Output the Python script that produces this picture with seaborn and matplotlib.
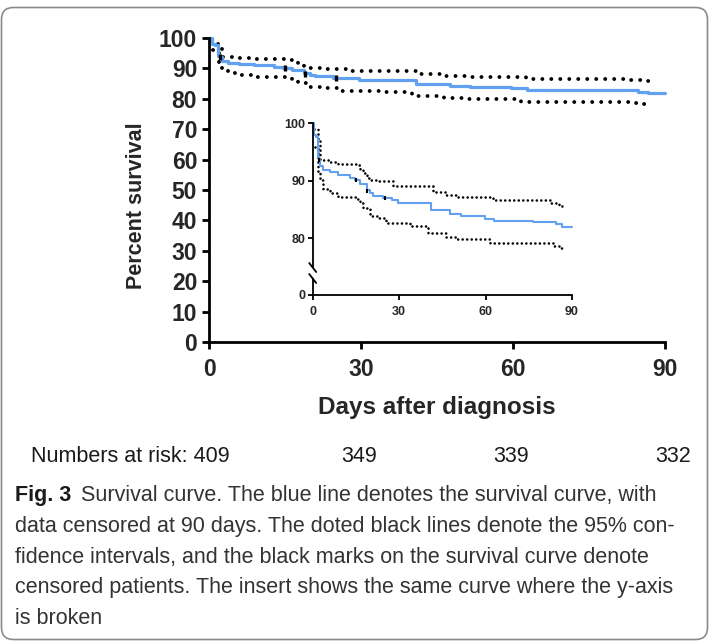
import numpy as np
import pandas as pd
import matplotlib
matplotlib.use("Agg")
import matplotlib.pyplot as plt
import seaborn as sns
from matplotlib.patches import FancyBboxPatch

# ---------------- data ----------------
km_days = [0, 0.6, 1.2, 1.7, 2.3, 2.5, 3.7, 6.0, 8.9, 12.9, 14.7, 16.4, 18.7, 19.9,
           21.0, 24.5, 27.4, 29.7, 32.6, 40.9, 47.6, 51.6, 59.7, 62.8, 76.5, 84.6, 86.6, 90.0]
km_surv = [100, 98.0, 97.6, 94.2, 93.6, 92.5, 91.9, 91.6, 91.0, 90.4, 90.1, 89.4, 88.4, 87.9,
           87.4, 87.0, 86.7, 86.2, 86.1, 85.0, 84.3, 83.9, 83.4, 83.0, 82.8, 82.4, 82.0, 82.0]

upper_days = [0.6, 1.7, 2.5, 6.0, 8.9, 15.2, 16.4, 17.6, 18.7, 19.9, 22.2, 28.0,
              41.8, 46.4, 50.5, 62.6, 82.3, 85.5, 87.0]
upper_vals = [99.0, 97.2, 93.7, 93.3, 93.0, 92.7, 92.1, 91.3, 90.5, 90.1, 89.9, 89.1,
              88.1, 87.5, 87.1, 86.6, 86.2, 85.7, 85.7]

lower_days = [0.8, 2.0, 2.5, 3.7, 6.0, 8.9, 15.2, 16.4, 17.6, 19.9, 22.2, 25.6,
              33.7, 40.1, 46.4, 49.9, 61.5, 83.4, 85.5, 87.0]
lower_vals = [95.9, 91.6, 90.1, 88.5, 87.9, 87.1, 86.8, 86.2, 85.2, 83.9, 83.5, 82.6,
              82.2, 80.9, 80.3, 79.9, 79.1, 78.7, 78.3, 78.3]

censor_days = [2.2, 15.0, 19.0, 25.0]
censor_vals = [93.6, 90.1, 88.2, 87.0]

main_xticks = [0, 30, 60, 90]
main_yticks = [0, 10, 20, 30, 40, 50, 60, 70, 80, 90, 100]
inset_yticks_upper = [80, 90, 100]
inset_yticks_lower = [0]

risk_numbers = [409, 349, 339, 332]

caption_lines = [
    "data censored at 90 days. The doted black lines denote the 95% con-",
    "fidence intervals, and the black marks on the survival curve denote",
    "censored patients. The insert shows the same curve where the y-axis",
    "is broken",
]
caption_first = "Survival curve. The blue line denotes the survival curve, with"

# ---------------- style ----------------
sns.set_theme(style="ticks")
plt.rcParams["font.family"] = ["Liberation Sans", "DejaVu Sans"]

BLUE = "#62A0F0"
W, H = 712, 642
fig = plt.figure(figsize=(W / 100, H / 100), dpi=100)
fig.patch.set_facecolor("white")

km = pd.DataFrame({"day": km_days, "surv": km_surv})
up = pd.DataFrame({"day": upper_days, "val": upper_vals})
lo = pd.DataFrame({"day": lower_days, "val": lower_vals})
cen = pd.DataFrame({"day": censor_days, "val": censor_vals})


def px_axes(x0, ytop, x1, ybot):
    return fig.add_axes([x0 / W, (H - ybot) / H, (x1 - x0) / W, (ybot - ytop) / H])


def draw_curves(ax, lw_blue, lw_dot, gap, ms, mew):
    for df in (up, lo):
        sns.lineplot(data=df, x="day", y="val", ax=ax, color="black", lw=lw_dot,
                     linestyle=(0, (0.01, gap)), dash_capstyle="round",
                     drawstyle="steps-post", estimator=None, clip_on=False, legend=False)
    sns.lineplot(data=km, x="day", y="surv", ax=ax, color=BLUE, lw=lw_blue,
                 drawstyle="steps-post", estimator=None, clip_on=False, legend=False)
    sns.scatterplot(data=cen, x="day", y="val", ax=ax, marker="|", s=ms,
                    color="black", linewidth=mew, zorder=5, legend=False, clip_on=False)


# ---------------- main axes ----------------
ax = px_axes(209, 38, 665, 342)
draw_curves(ax, 2.3, 2.8, 2.3, 24, 2.4)
ax.set_xlim(0, 90)
ax.set_ylim(0, 100)
ax.set_xticks(main_xticks)
ax.set_yticks(main_yticks)
ax.set_xticklabels([str(t) for t in main_xticks])
ax.set_yticklabels([str(t) for t in main_yticks])
for s in ["top", "right"]:
    ax.spines[s].set_visible(False)
for s in ["left", "bottom"]:
    ax.spines[s].set_linewidth(2.0)
    ax.spines[s].set_color("black")
ax.tick_params(axis="both", direction="out", length=5, width=2.0, color="black",
               labelsize=16.5, pad=3.5)
for lab in ax.get_xticklabels() + ax.get_yticklabels():
    lab.set_fontweight("bold")
ax.tick_params(axis="x", pad=6.5)
ax.set_xlabel("Days after diagnosis", fontsize=17.5, fontweight="bold")
ax.set_ylabel("Percent survival", fontsize=15.5, fontweight="bold")
ax.xaxis.set_label_coords(0.5, -0.215)
ax.yaxis.set_label_coords(-0.158, 0.45)
ax.xaxis.label.set_va("center")
ax.yaxis.label.set_va("center")
ax.set_facecolor("none")

# ---------------- inset (broken y-axis) ----------------
IX0, IX1 = 312.7, 572.0
ax_u = px_axes(IX0, 123.3, IX1, 267.5)
draw_curves(ax_u, 1.5, 1.9, 1.7, 12, 1.5)
ax_u.set_xlim(0, 90)
ax_u.set_ylim(100 - (267.5 - 123.3) / 5.75, 100)
ax_u.set_yticks(inset_yticks_upper)
ax_u.set_yticklabels([str(t) for t in inset_yticks_upper])
ax_u.set_xticks([])
for s in ["top", "right", "bottom"]:
    ax_u.spines[s].set_visible(False)
ax_u.spines["left"].set_linewidth(1.3)
ax_u.spines["left"].set_color("black")
ax_u.tick_params(axis="y", direction="out", length=3.5, width=1.3, color="black",
                 labelsize=9, pad=2)
for lab in ax_u.get_yticklabels():
    lab.set_fontweight("bold")
ax_u.set_xlabel("")
ax_u.set_ylabel("")
ax_u.set_facecolor("none")

ax_l = px_axes(IX0, 278.5, IX1, 294.5)
ax_l.set_xlim(0, 90)
ax_l.set_ylim(0, 16 / 5.75)
ax_l.set_xticks(main_xticks)
ax_l.set_xticklabels([str(t) for t in main_xticks])
ax_l.set_yticks(inset_yticks_lower)
ax_l.set_yticklabels([str(t) for t in inset_yticks_lower])
for s in ["top", "right"]:
    ax_l.spines[s].set_visible(False)
for s in ["left", "bottom"]:
    ax_l.spines[s].set_linewidth(1.3)
    ax_l.spines[s].set_color("black")
ax_l.tick_params(axis="both", direction="out", length=3.5, width=1.3, color="black",
                 labelsize=9, pad=2)
ax_l.tick_params(axis="x", pad=5)
for lab in ax_l.get_xticklabels() + ax_l.get_yticklabels():
    lab.set_fontweight("bold")
ax_l.set_facecolor("none")

# break marks
hw = 3.5 / (IX1 - IX0)
for a, hpx in [(ax_u, 267.5 - 123.3), (ax_l, 294.5 - 278.5)]:
    hh = 4.5 / hpx
    yc = 0.0 if a is ax_u else 1.0
    a.plot([-hw, hw], [yc + hh, yc - hh], transform=a.transAxes, color="black",
           lw=1.3, clip_on=False)

# ---------------- numbers at risk ----------------
def fx(x):
    return x / W


def fy(y):
    return (H - y) / H


fig.text(fx(230), fy(462), f"Numbers at risk: {risk_numbers[0]}", ha="right",
         va="baseline", fontsize=15.5, color="#1a1a1a")
for xc, n in zip([359, 511, 673], risk_numbers[1:]):
    fig.text(fx(xc), fy(462), str(n), ha="center", va="baseline", fontsize=15.5,
             color="#1a1a1a")

# ---------------- caption ----------------
CAP_FONT = ["Liberation Sans Narrow", "Liberation Sans", "DejaVu Sans"]
fig.text(fx(15), fy(501), "Fig. 3", ha="left", va="baseline", fontsize=15.5,
         fontweight="bold", family=CAP_FONT, color="#1a1a1a")
fig.text(fx(81), fy(501), caption_first, ha="left", va="baseline", fontsize=15.5,
         family=CAP_FONT, color="#333333")
for i, line in enumerate(caption_lines):
    fig.text(fx(15), fy(532 + 30.5 * i), line, ha="left", va="baseline",
             fontsize=15.5, family=CAP_FONT, color="#333333")

# ---------------- frame ----------------
frame = FancyBboxPatch((1.5, 2.5), 706, 632, boxstyle="round,pad=0,rounding_size=12",
                       transform=None, facecolor="none", edgecolor="#8a8a8a", lw=1.2)
fig.patches.append(frame)

fig.savefig("out.png", dpi=100, facecolor="white")
